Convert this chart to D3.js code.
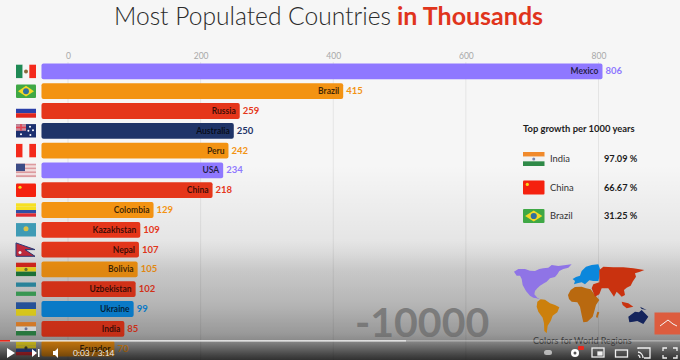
<!DOCTYPE html>
<html>
<head>
<meta charset="utf-8">
<script src="https://cdn.jsdelivr.net/npm/d3@7"></script>
<style>
  html, body { margin: 0; padding: 0; background: #f6f6f6; overflow: hidden; }
  text { font-family: Lato, "Open Sans", sans-serif; }
</style>
</head>
<body>
<svg id="chart" width="680" height="360"></svg>
<script>
const countries = ["Mexico", "Brazil", "Russia", "Australia", "Peru", "USA", "China", "Colombia", "Kazakhstan", "Nepal", "Bolivia", "Uzbekistan", "Ukraine", "India", "Ecuador"];
const population = [806, 415, 259, 250, 242, 234, 218, 129, 109, 107, 105, 102, 99, 85, 70];
const regions = ["north", "south", "asia", "oceania", "south", "north", "asia", "south", "asia", "asia", "south", "asia", "europe", "asia", "south"];
const axisTicks = [0, 200, 400, 600, 800];
const growthCountries = ["India", "China", "Brazil"];
const growthValues = ["97.09 %", "66.67 %", "31.25 %"];

const regionColour = d3.scaleOrdinal()
  .domain(["north", "south", "asia", "oceania", "europe"])
  .range(["#8f78ff", "#f39312", "#e5361a", "#1f3468", "#0b87dc"]);

const svg = d3.select("#chart");
const defs = svg.append("defs");
const barStart = -40;

const x = d3.scaleLinear().domain([0, 800]).range([68, 598.5]);
const y = d3.scaleBand().domain(countries).range([61.5, 358.5]).paddingInner(0.2).paddingOuter(0.1);

const addGradient = (id, stops) => {
  const grad = defs.append("linearGradient").attr("id", id).attr("x1", 0).attr("x2", 0).attr("y1", 0).attr("y2", 1);
  stops.forEach((s) =>
    grad.append("stop").attr("offset", s[0]).attr("stop-color", "#000").attr("stop-opacity", s[1])
  );
};

// the video background fades to grey, under the bars
addGradient("back", [[0, 0], [0.45, 0.08], [0.7, 0.18], [0.9, 0.3], [1, 0.5]]);
svg.append("rect").attr("y", 165).attr("width", 680).attr("height", 195).attr("fill", "url(#back)");

// title
svg.append("text").attr("x", 114).attr("y", 25).attr("font-size", 24.6).attr("font-weight", 300).attr("fill", "#2b2b2b").text("Most Populated Countries");
svg.append("text").attr("x", 397).attr("y", 25).attr("font-size", 25).attr("font-weight", 700).attr("fill", "#e0341c").text("in Thousands");

// gridlines + axis
svg.append("g")
  .selectAll("line")
  .data(axisTicks)
  .join("line")
  .attr("x1", (d) => x(d))
  .attr("x2", (d) => x(d))
  .attr("y1", 62)
  .attr("y2", 360)
  .attr("stroke", "#000")
  .attr("stroke-opacity", 0.07);

const axis = svg.append("g")
  .attr("transform", "translate(0,60)")
  .call(d3.axisTop(x).tickValues(axisTicks).tickSize(0).tickPadding(1));
axis.select(".domain").remove();
axis.selectAll("text").attr("fill", "#a8a8a8").attr("font-size", 8.5).style("font-family", "Lato");

// bars
const rows = svg.append("g")
  .selectAll("g")
  .data(countries.map((name, i) => ({ name, value: population[i], region: regions[i] })))
  .join("g");

rows.append("rect")
  .attr("x", x(barStart))
  .attr("y", (d) => y(d.name))
  .attr("width", (d) => x(d.value) - x(barStart))
  .attr("height", y.bandwidth())
  .attr("rx", 2)
  .attr("fill", (d) => regionColour(d.region));

rows.append("text")
  .attr("x", (d) => x(d.value) - 4)
  .attr("y", (d) => y(d.name) + y.bandwidth() / 2 + 3)
  .attr("text-anchor", "end")
  .attr("font-size", 8.5)
  .attr("font-weight", 700)
  .attr("fill", "#000")
  .attr("fill-opacity", 0.75)
  .text((d) => d.name);

rows.append("text")
  .attr("x", (d) => x(d.value) + 3)
  .attr("y", (d) => y(d.name) + y.bandwidth() / 2 + 3)
  .attr("font-size", 9.5)
  .attr("font-weight", 700)
  .attr("fill", (d) => regionColour(d.region))
  .text((d) => d.value);

// flags, w x h box with stripes and a few details
function stripesH(g, w, h, cols) {
  const s = d3.scaleBand().domain(d3.range(cols.length)).range([0, h]);
  g.selectAll(null).data(cols).join("rect")
    .attr("width", w).attr("y", (d, i) => s(i)).attr("height", s.bandwidth()).attr("fill", (d) => d);
}
function stripesV(g, w, h, cols) {
  const s = d3.scaleBand().domain(d3.range(cols.length)).range([0, w]);
  g.selectAll(null).data(cols).join("rect")
    .attr("height", h).attr("x", (d, i) => s(i)).attr("width", s.bandwidth()).attr("fill", (d) => d);
}
const flags = {
  Mexico(g, w, h) {
    stripesV(g, w, h, ["#1f8a55", "#f6f6f6", "#f42a1c"]);
    g.append("circle").attr("cx", w / 2).attr("cy", h / 2).attr("r", 2).attr("fill", "#8a6a3a");
  },
  Brazil(g, w, h) {
    g.append("rect").attr("width", w).attr("height", h).attr("rx", 1).attr("fill", "#3fa845");
    g.append("path").attr("d", `M${w * 0.1},${h / 2}L${w / 2},${h * 0.1}L${w * 0.9},${h / 2}L${w / 2},${h * 0.9}Z`).attr("fill", "#f4d925");
    g.append("circle").attr("cx", w / 2).attr("cy", h / 2).attr("r", h * 0.22).attr("fill", "#2f6f9f");
  },
  Russia(g, w, h) { stripesH(g, w, h, ["#f6f6f6", "#2a3fa8", "#e0261c"]); },
  Australia(g, w, h) {
    g.append("rect").attr("width", w).attr("height", h).attr("fill", "#1c2f6e");
    g.append("rect").attr("width", w * 0.5).attr("height", h * 0.5).attr("fill", "#c98a9a");
    g.append("path").attr("d", `M0,${h * 0.25}H${w * 0.5}M${w * 0.25},0V${h * 0.5}`).attr("stroke", "#e04050").attr("stroke-width", 1.5);
    g.selectAll(null).data([[0.25, 0.75], [0.7, 0.2], [0.85, 0.45], [0.62, 0.5], [0.72, 0.82]]).join("circle")
      .attr("cx", (d) => d[0] * w).attr("cy", (d) => d[1] * h).attr("r", 1).attr("fill", "#fff");
  },
  Peru(g, w, h) { stripesV(g, w, h, ["#f42a1c", "#f6f6f6", "#f42a1c"]); },
  USA(g, w, h) {
    stripesH(g, w, h, ["#dd9a9e", "#f2dcdc", "#dd9a9e", "#f2dcdc", "#dd9a9e", "#f2dcdc", "#dd9a9e"]);
    g.append("rect").attr("width", w * 0.45).attr("height", h * 0.55).attr("fill", "#3c4c86");
  },
  China(g, w, h) {
    g.append("rect").attr("width", w).attr("height", h).attr("rx", 1).attr("fill", "#f5210f");
    g.append("circle").attr("cx", w * 0.2).attr("cy", h * 0.28).attr("r", 1.6).attr("fill", "#f6d71e");
  },
  Colombia(g, w, h) {
    stripesH(g, w, h, ["#f6e024", "#f6e024", "#2f4fa5", "#df2c34"]);
  },
  Kazakhstan(g, w, h) {
    g.append("rect").attr("width", w).attr("height", h).attr("fill", "#3f9bb5");
    g.append("circle").attr("cx", w / 2).attr("cy", h * 0.42).attr("r", 2.5).attr("fill", "#d9c24a");
  },
  Nepal(g, w, h) {
    g.append("path").attr("d", `M0,0L${w * 0.95},${h * 0.5}H${w * 0.45}L${w * 0.95},${h}H0Z`).attr("fill", "#c42a3c").attr("stroke", "#2c3a78").attr("stroke-width", 1);
    g.append("circle").attr("cx", w * 0.2).attr("cy", h * 0.72).attr("r", 1.5).attr("fill", "#f6f6f6");
  },
  Bolivia(g, w, h) {
    stripesH(g, w, h, ["#d9281e", "#f2d81f", "#1f7a3c"]);
    g.append("circle").attr("cx", w / 2).attr("cy", h / 2).attr("r", 1.6).attr("fill", "#6f7a30");
  },
  Uzbekistan(g, w, h) {
    g.append("rect").attr("width", w).attr("height", h * 0.32).attr("fill", "#2e8ea8");
    g.append("rect").attr("y", h * 0.68).attr("width", w).attr("height", h * 0.32).attr("fill", "#3fa55a");
  },
  Ukraine(g, w, h) { stripesH(g, w, h, ["#2a5aa8", "#efdc1f"]); },
  India(g, w, h) {
    stripesH(g, w, h, ["#f08a2c", "#f2f2f2", "#2f8a48"]);
    g.append("circle").attr("cx", w / 2).attr("cy", h / 2).attr("r", 1.5).attr("fill", "#7a86b0");
  },
  Ecuador(g, w, h) {
    stripesH(g, w, h, ["#f6e024", "#f6e024", "#2f4fa5", "#df2c34"]);
    g.append("circle").attr("cx", w / 2).attr("cy", h * 0.45).attr("r", 1.6).attr("fill", "#4a4a30");
  },
};

countries.forEach((name) => {
  const g = svg.append("g").attr("transform", `translate(16,${y(name) + y.bandwidth() / 2 - 6.7})`);
  flags[name](g, 20, 13.4);
});

// growth panel
svg.append("text").attr("x", 523).attr("y", 132).attr("font-size", 9.4).attr("font-weight", 700).attr("fill", "#1c1c1c").text("Top growth per 1000 years");

const panelY = d3.scalePoint().domain(growthCountries).range([159, 216]);
growthCountries.forEach((name, i) => {
  const g = svg.append("g").attr("transform", `translate(523,${panelY(name) - 7})`);
  flags[name](g, 21.5, 14);
  svg.append("text").attr("x", 550).attr("y", panelY(name) + 3.2).attr("font-size", 9.4).attr("fill", "#333").text(name);
  svg.append("text").attr("x", 604).attr("y", panelY(name) + 3.2).attr("font-size", 9.2).attr("font-weight", 700).attr("fill", "#1c1c1c").text(growthValues[i]);
});

// year counter
svg.append("text").attr("x", 355).attr("y", 337).attr("font-size", 41).attr("font-weight", 700).attr("fill", "#8a8a8a").text("-10000");

// player shading over everything low on the page
addGradient("shade", [[0, 0], [0.25, 0.08], [0.58, 0.1], [0.78, 0.14], [0.84, 0.2], [0.92, 0.38], [1, 0.6]]);
svg.append("rect").attr("y", 240).attr("width", 680).attr("height", 120).attr("fill", "url(#shade)");

// world map, outlines traced by hand
const map = svg.append("g").attr("transform", "translate(500,255) scale(0.3333)");
const continents = [
  ["#8f74e6", "M42,50L55,42L75,42L90,47L105,48L118,42L130,40L145,38L155,30L175,33L215,28L205,38L190,42L178,48L172,58L165,66L150,70L140,80L132,85L120,92L112,100L105,108L103,118L112,128L122,134L110,130L100,128L90,122L78,108L68,90L65,72L60,62L50,62Z"],
  ["#cc800c", "M112,140L122,133L135,134L150,145L165,150L178,157L172,172L158,182L152,198L143,212L140,235L133,228L132,205L128,188L115,170L110,155Z"],
  ["#b9690f", "M204,120L212,105L225,96L245,95L258,100L272,103L283,118L298,135L288,150L284,165L278,185L262,200L250,202L245,180L240,155L232,142L215,140L207,132Z"],
  ["#b9690f", "M292,170L298,172L292,190L288,185Z"],
  ["#0b87dc", "M218,72L228,66L240,62L245,48L258,35L275,30L295,28L300,42L298,65L295,78L280,78L268,76L255,88L245,82L232,85L222,88L225,78Z"],
  ["#c9320f", "M298,45L310,35L340,37L370,37L400,40L433,45L420,50L405,55L408,65L398,80L392,92L380,98L372,105L375,120L365,125L358,118L350,110L342,125L332,110L325,100L305,100L298,118L285,125L275,100L280,88L298,82Z"],
  ["#c9320f", "M365,140L385,145L400,155L380,160L368,150Z"],
  ["#14245c", "M385,185L405,170L417,172L425,165L445,185L430,207L412,198L400,200L388,202Z"],
  ["#14245c", "M420,155L440,165L425,162Z"],
];
map.selectAll("path").data(continents).join("path").attr("d", (d) => d[1]).attr("fill", (d) => d[0]);

svg.append("text").attr("x", 533).attr("y", 344).attr("font-size", 9).attr("fill", "#3a3a3a").text("Colors for World Regions");

// logo
svg.append("rect").attr("x", 654.5).attr("y", 312.5).attr("width", 25.5).attr("height", 22).attr("fill", "#dd5c3e");
svg.append("path").attr("d", "M660,326L668,320L673,324L677,326").attr("fill", "none").attr("stroke", "#f6f6f6").attr("stroke-width", 1);

// progress bar
svg.append("rect").attr("y", 340).attr("width", 680).attr("height", 1.6).attr("fill", "#fff").attr("fill-opacity", 0.3);
svg.append("rect").attr("y", 340).attr("width", 406).attr("height", 1.6).attr("fill", "#fff").attr("fill-opacity", 0.6);
svg.append("rect").attr("y", 340).attr("width", 10).attr("height", 1.6).attr("fill", "#e8281c");

// player controls
const ctl = svg.append("g").attr("fill", "#fff");
ctl.append("path").attr("d", "M7,348L15,353L7,358Z");
ctl.append("path").attr("d", "M32,349L37,353L32,357ZM38,349H39.5V357H38Z");
ctl.append("path").attr("d", "M53,351H55L58,348V358L55,355H53Z");
ctl.append("text").attr("x", 73).attr("y", 356).attr("font-size", 8.4).attr("fill", "#eee").text("0:03 / 3:14");
ctl.append("rect").attr("x", 544).attr("y", 350).attr("width", 8).attr("height", 5).attr("rx", 2.5).attr("fill-opacity", 0.6);
ctl.append("circle").attr("cx", 575).attr("cy", 353).attr("r", 4);
ctl.append("circle").attr("cx", 575).attr("cy", 353).attr("r", 1.5).attr("fill", "#555");
ctl.append("rect").attr("x", 578).attr("y", 346).attr("width", 6).attr("height", 4).attr("rx", 1).attr("fill", "#e8281c");

const icons = svg.append("g").attr("fill", "none").attr("stroke", "#f0f0f0").attr("stroke-width", 1.3);
icons.append("rect").attr("x", 592).attr("y", 348).attr("width", 12).attr("height", 9);
icons.append("rect").attr("x", 598).attr("y", 352).attr("width", 4).attr("height", 3).attr("fill", "#f0f0f0");
icons.append("rect").attr("x", 615.5).attr("y", 350).attr("width", 12).attr("height", 7);
icons.append("path").attr("d", "M638,349V348H650V358H644M638,352A6,6 0 0 1 643,358M638,355A3,3 0 0 1 640,358");
icons.append("path").attr("d", "M663,351V348H667M673,348H677V351M677,355V358H673M667,358H663V355");
</script>
</body>
</html>
